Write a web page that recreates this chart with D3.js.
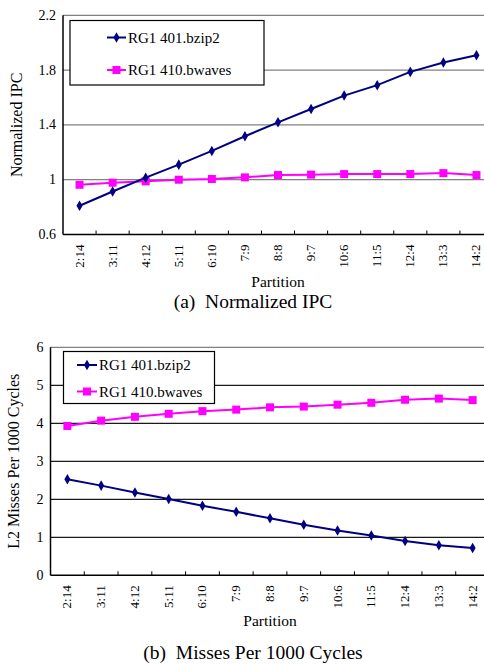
<!DOCTYPE html>
<html>
<head>
<meta charset="utf-8">
<script src="https://cdn.jsdelivr.net/npm/d3@7"></script>
<style>
  body { margin: 0; background: #fff; }
  svg text { font-family: "Liberation Serif", "Times New Roman", "DejaVu Serif", serif; white-space: pre; }
</style>
</head>
<body>
<svg id="fig" width="484" height="664"></svg>
<script>
// data
var partitions = ["2:14","3:11","4:12","5:11","6:10","7:9","8:8","9:7","10:6","11:5","12:4","13:3","14:2"];
var ipcBzip2   = [0.81,0.914,1.015,1.11,1.21,1.317,1.419,1.516,1.614,1.69,1.787,1.856,1.909];
var ipcBwaves  = [0.963,0.978,0.988,1.0,1.005,1.017,1.034,1.037,1.041,1.041,1.041,1.048,1.034];
var mpkcBzip2  = [2.53,2.36,2.18,2.01,1.83,1.67,1.50,1.33,1.18,1.05,0.90,0.79,0.72];
var mpkcBwaves = [3.93,4.07,4.17,4.25,4.32,4.36,4.42,4.44,4.49,4.54,4.62,4.65,4.61];
var ipcTicks  = [0.6,1,1.4,1.8,2.2];
var mpkcTicks = [0,1,2,3,4,5,6];

var navy = "#000080", pink = "#ff00ff";
var svg = d3.select("#fig");

function panel(o) {
  var g = svg.append("g");
  var x = d3.scaleBand().domain(partitions).range([o.left, o.right]);
  var y = d3.scaleLinear().domain(o.domain).range([o.bottom, o.top]);

  // gridlines
  g.selectAll(".grid").data(o.ticks.slice(1)).enter().append("line")
    .attr("x1", o.left).attr("x2", o.right)
    .attr("y1", d => y(d)).attr("y2", d => y(d))
    .style("stroke", (d, i) => i == o.ticks.length - 2 ? "#808080" : o.grid)
    .style("stroke-width", 1.2);

  // y tick labels
  g.selectAll(".yl").data(o.ticks).enter().append("text")
    .attr("x", o.left - 7).attr("y", d => y(d) + 4.5)
    .attr("text-anchor", "end").style("font-size", "14px")
    .text(d => d3.format("")(d));

  // axes, x ticks pointing inward
  g.append("line").attr("x1", o.left).attr("x2", o.right)
    .attr("y1", o.bottom).attr("y2", o.bottom)
    .style("stroke", "#000").style("stroke-width", 1.5);
  g.append("line").attr("x1", o.left).attr("x2", o.left)
    .attr("y1", o.top).attr("y2", o.bottom)
    .style("stroke", "#000").style("stroke-width", 1.5);
  g.selectAll(".xt").data(partitions.slice(1)).enter().append("line")
    .attr("x1", d => x(d)).attr("x2", d => x(d))
    .attr("y1", o.bottom).attr("y2", o.bottom - 4)
    .style("stroke", "#000");

  g.selectAll(".xl").data(partitions).enter().append("text")
    .attr("transform", d => "translate(" + (x(d) + x.bandwidth() / 2 + 4) + "," + (o.bottom + 10) + ") rotate(-90)")
    .attr("text-anchor", "end").style("font-size", "13px")
    .text(d => d);

  g.append("text").attr("x", (o.left + o.right) / 2).attr("y", o.bottom + o.px)
    .attr("text-anchor", "middle").style("font-size", "15.5px").text("Partition");
  g.append("text").attr("x", 253).attr("y", o.bottom + o.cap)
    .attr("text-anchor", "middle").style("font-size", "19.5px").text(o.caption);
  g.append("text")
    .attr("transform", "translate(" + o.ytx + "," + ((o.top + o.bottom) / 2) + ") rotate(-90)")
    .attr("text-anchor", "middle").style("font-size", "16px").text(o.ytitle);

  var line = d3.line().x((d, i) => x(partitions[i]) + x.bandwidth() / 2).y(d => y(d));
  var diamond = d3.symbol().type(d3.symbolDiamond).size(32);

  // bwaves
  g.append("path").datum(o.s2).attr("d", line)
    .style("fill", "none").style("stroke", pink).style("stroke-width", 2);
  g.selectAll(".sq").data(o.s2).enter().append("rect")
    .attr("x", (d, i) => x(partitions[i]) + x.bandwidth() / 2 - 4)
    .attr("y", d => y(d) - 4).attr("width", 8).attr("height", 8)
    .style("fill", pink);
  // bzip2
  g.append("path").datum(o.s1).attr("d", line)
    .style("fill", "none").style("stroke", navy).style("stroke-width", 2);
  g.selectAll(".dm").data(o.s1).enter().append("path")
    .attr("d", diamond)
    .attr("transform", (d, i) => "translate(" + (x(partitions[i]) + x.bandwidth() / 2) + "," + y(d) + ")")
    .style("fill", navy);

  // legend
  var L = o.legend;
  g.append("rect").attr("x", L.x).attr("y", L.y).attr("width", L.w).attr("height", L.h)
    .style("fill", "#fff").style("stroke", "#000").style("stroke-width", 1.2);
  [{n: "RG1 401.bzip2", c: navy, sym: "d"}, {n: "RG1 410.bwaves", c: pink, sym: "s"}].forEach(function(e, i) {
    var ly = L.rows[i];
    g.append("line").attr("x1", L.lx).attr("x2", L.lx + L.ll).attr("y1", ly).attr("y2", ly)
      .style("stroke", e.c).style("stroke-width", 2);
    var cx = L.lx + L.ll / 2;
    if (e.sym == "d") {
      g.append("path").attr("d", diamond).attr("transform", "translate(" + cx + "," + ly + ")").style("fill", e.c);
    } else {
      g.append("rect").attr("x", cx - 4).attr("y", ly - 4).attr("width", 8).attr("height", 8).style("fill", e.c);
    }
    g.append("text").attr("x", L.lx + L.ll + 2).attr("y", ly + 5)
      .style("font-size", "15px").text(e.n);
  });
}

panel({
  left: 63, right: 493, top: 15.3, bottom: 234.5, domain: [0.6, 2.2], ticks: ipcTicks,
  grid: "#808080", s1: ipcBzip2, s2: ipcBwaves, ytitle: "Normalized IPC", ytx: 22,
  caption: "(a)  Normalized IPC", px: 52, cap: 73.5,
  legend: {x: 70, y: 20.5, w: 194, h: 64.5, lx: 107, ll: 19, rows: [37.5, 70]}
});

panel({
  left: 50.5, right: 489.5, top: 347.3, bottom: 575.3, domain: [0, 6], ticks: mpkcTicks,
  grid: "#1a1a1a", s1: mpkcBzip2, s2: mpkcBwaves, ytitle: "L2 Misses Per 1000 Cycles", ytx: 19,
  caption: "(b)  Misses Per 1000 Cycles", px: 51, cap: 83.5,
  legend: {x: 63.5, y: 351.5, w: 151, h: 52, lx: 77, ll: 20, rows: [365, 391.5]}
});
</script>
</body>
</html>
